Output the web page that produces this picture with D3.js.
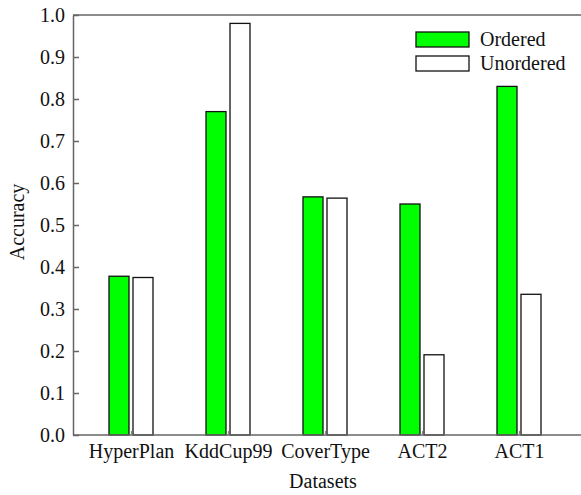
<!DOCTYPE html>
<html>
<head>
<style>
  body { margin: 0; background: #fff; }
  text { font-family: "Liberation Serif", "Times New Roman", serif; fill: #111; }
</style>
</head>
<body>
<svg id="chart" width="581" height="495"></svg>
<script src="https://d3js.org/d3.v7.min.js"></script>
<script>
const categories = ['HyperPlan', 'KddCup99', 'CoverType', 'ACT2', 'ACT1'];
const ordered = [0.378, 0.770, 0.567, 0.550, 0.830];
const unordered = [0.375, 0.980, 0.564, 0.191, 0.335];
const yTicks = [0, 0.1, 0.2, 0.3, 0.4, 0.5, 0.6, 0.7, 0.8, 0.9, 1.0];

const svg = d3.select('#chart');
const plot = {left: 73, top: 15, bottom: 435, right: 581};
const fontSize = 20;

const y = d3.scaleLinear().domain([0, 1]).range([plot.bottom, plot.top]);
const x = d3.scalePoint().domain(categories).range([131, 519]);
const barW = 20, gap = 2;

// frame
svg.append('line').attr('x1', plot.left).attr('x2', plot.right).attr('y1', plot.top).attr('y2', plot.top)
  .attr('stroke', '#666').attr('stroke-width', 1.5);

// bars
const g = svg.append('g');
categories.forEach((c, i) => {
  g.append('rect')
    .attr('x', x(c) - gap - barW).attr('y', y(ordered[i]))
    .attr('width', barW).attr('height', y(0) - y(ordered[i]))
    .attr('fill', '#00ff00').attr('stroke', '#111').attr('stroke-width', 1.3);
  g.append('rect')
    .attr('x', x(c) + gap).attr('y', y(unordered[i]))
    .attr('width', barW).attr('height', y(0) - y(unordered[i]))
    .attr('fill', '#fff').attr('stroke', '#111').attr('stroke-width', 1.3);
});

// y axis
const yAxis = svg.append('g').attr('transform', `translate(${plot.left},0)`)
  .call(d3.axisLeft(y).tickValues(yTicks).tickFormat(d3.format('.1f')).tickSizeInner(-6).tickSizeOuter(0).tickPadding(8));
yAxis.select('.domain').attr('stroke', '#666').attr('stroke-width', 1.5);
yAxis.selectAll('line').attr('stroke', '#666').attr('stroke-width', 1.5);
yAxis.selectAll('text').attr('font-size', fontSize).attr('font-family', '"Liberation Serif", serif').attr('fill', '#111');

// x axis
const xAxis = svg.append('g').attr('transform', `translate(0,${plot.bottom})`)
  .call(d3.axisBottom(x).tickSizeInner(-4).tickSizeOuter(0).tickPadding(9));
xAxis.select('.domain').attr('d', `M${plot.left},0H${plot.right}`).attr('stroke', '#666').attr('stroke-width', 1.5);
xAxis.selectAll('line').attr('stroke', '#888').attr('stroke-width', 1.2);
xAxis.selectAll('text').attr('font-size', fontSize).attr('font-family', '"Liberation Serif", serif').attr('fill', '#111');

// axis titles
svg.append('text').attr('x', 323).attr('y', 488).attr('text-anchor', 'middle')
  .attr('font-size', fontSize).text('Datasets');
svg.append('text').attr('transform', 'translate(24,222) rotate(-90)').attr('text-anchor', 'middle')
  .attr('font-size', fontSize).text('Accuracy');

// legend
const legend = [
  {label: 'Ordered', fill: '#00ff00'},
  {label: 'Unordered', fill: '#fff'}
];
legend.forEach((d, i) => {
  svg.append('rect').attr('x', 416).attr('y', 32 + i * 24).attr('width', 53).attr('height', 15)
    .attr('fill', d.fill).attr('stroke', '#111').attr('stroke-width', 1.3);
  svg.append('text').attr('x', 480).attr('y', 46 + i * 24).attr('font-size', fontSize).text(d.label);
});
</script>
</body>
</html>
